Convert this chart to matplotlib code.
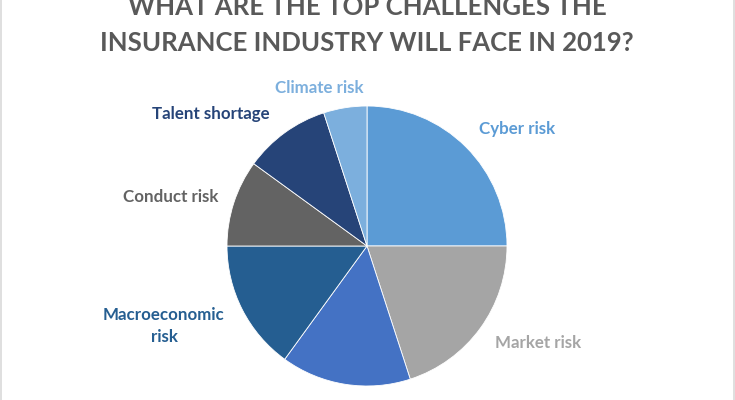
import matplotlib

matplotlib.use("Agg")
import matplotlib.pyplot as plt

plt.rcParams["font.family"] = ["Lato", "DejaVu Sans"]

# slices, clockwise from 12 o'clock
categories = [
    "Cyber risk",
    "Market risk",
    "Regulatory risk",
    "Macroeconomic\nrisk",
    "Conduct risk",
    "Talent shortage",
    "Climate risk",
]
shares = [25, 20, 15, 15, 10, 10, 5]
colors = ["#5B9BD5", "#A5A5A5", "#4472C4", "#255E91", "#636363", "#264478", "#7CAFDD"]

title_lines = ["WHAT ARE THE TOP CHALLENGES THE", "INSURANCE INDUSTRY WILL FACE IN 2019?"]

W, H = 735, 400
# label centres in pixel coordinates (from top-left), excel "best fit" style
label_pos = [(517, 129), (538, 343), (372, 408), (164, 326), (171, 197), (211, 114), (319, 88)]

fig = plt.figure(figsize=(W / 100, H / 100), dpi=100)
ax = fig.add_axes([0, 0, 1, 1])
ax.set_xlim(0, W)
ax.set_ylim(H, 0)
ax.axis("off")

# pie drawn in its own equal-aspect axes placed over the centre
cx, cy, r = 367, 246, 140
pax = fig.add_axes([(cx - r) / W, (H - cy - r) / H, 2 * r / W, 2 * r / H])
pax.pie(
    shares,
    colors=colors,
    startangle=90,
    counterclock=False,
    radius=1,
    wedgeprops=dict(edgecolor="white", linewidth=0.6),
)
pax.set_xlim(-1, 1)
pax.set_ylim(-1, 1)
pax.set_aspect("equal")
pax.axis("off")

for name, col, (x, y) in zip(categories, colors, label_pos):
    ax.text(x, y, name, color=col, fontsize=12.2, fontweight="bold",
            ha="center", va="center", linespacing=1.45)

# title: first line runs off the top, as in the source image
ax.text(W / 2, 15, title_lines[0], color="#595959", fontsize=18.5,
        fontweight="bold", ha="center", va="baseline")
ax.text(W / 2 - 1, 51, title_lines[1], color="#595959", fontsize=18.5,
        fontweight="bold", ha="center", va="baseline")

# thin frame around the chart area
ax.add_patch(plt.Rectangle((0.5, -5), W - 1, H + 10, fill=False,
                           edgecolor="#D9D9D9", linewidth=1.2))

fig.savefig("out.png", dpi=100)
